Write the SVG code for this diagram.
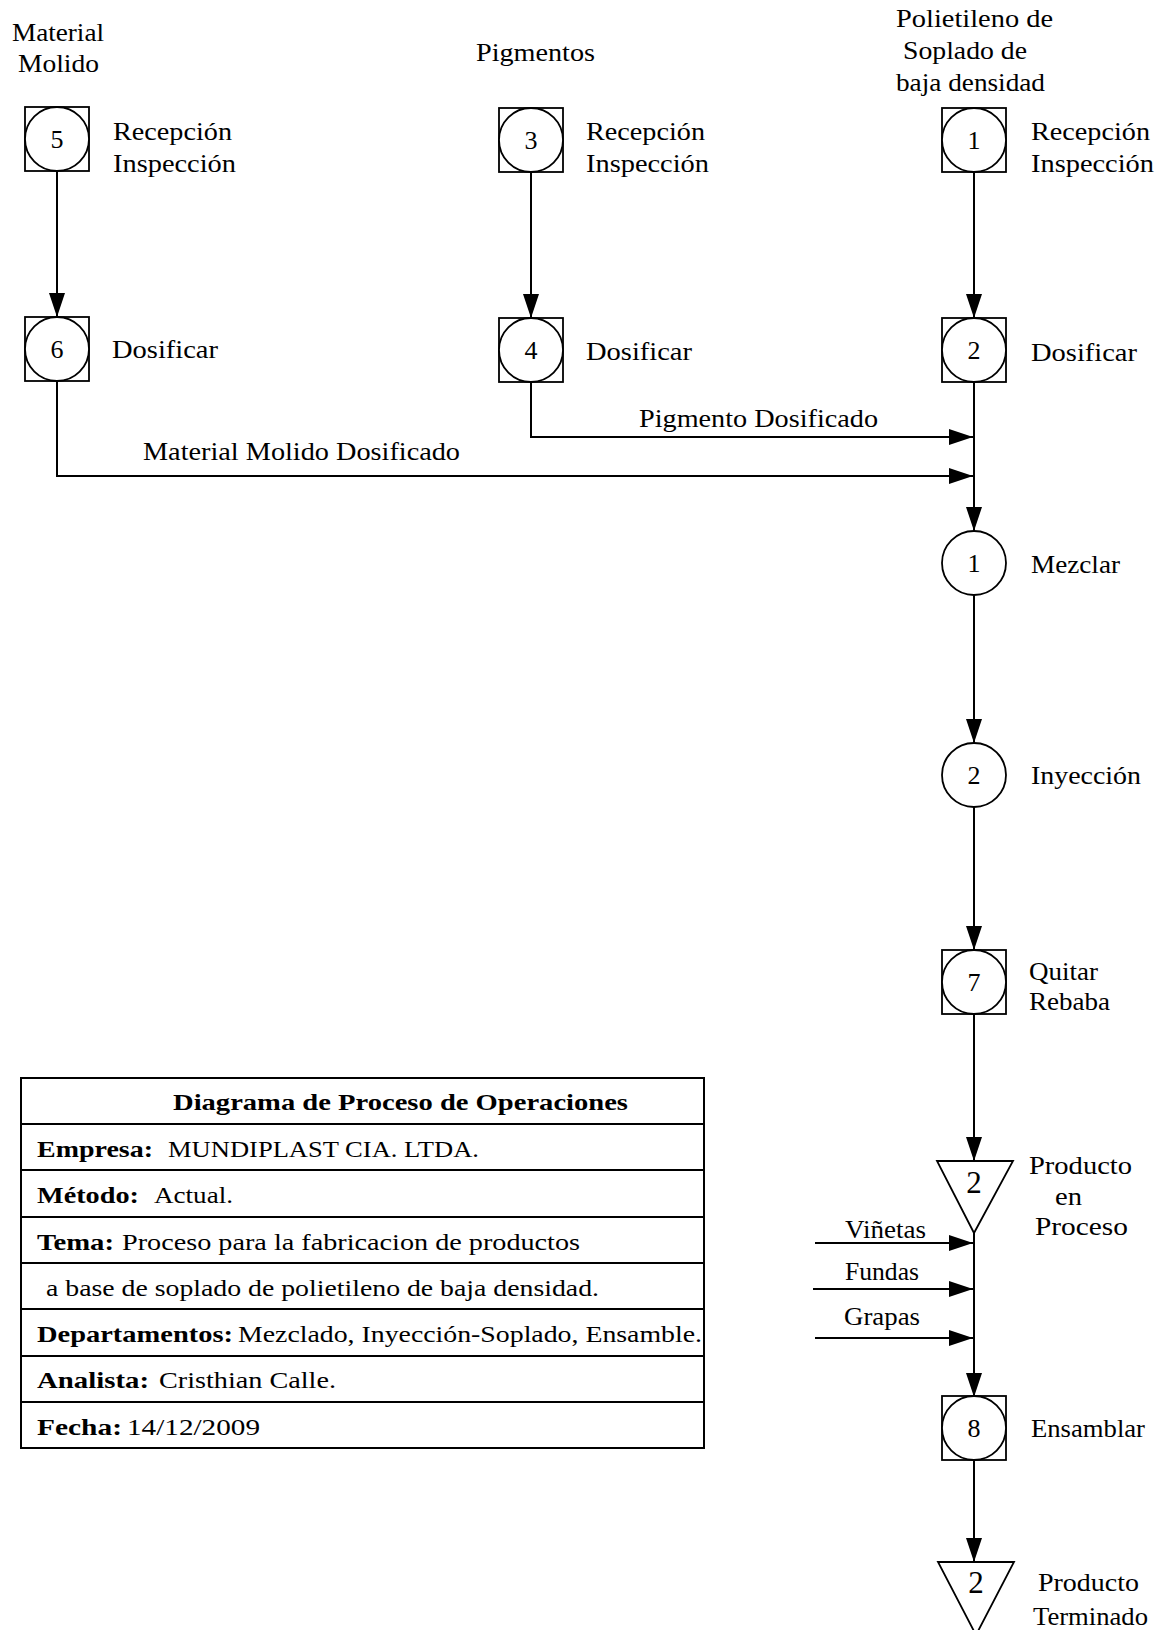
<svg xmlns="http://www.w3.org/2000/svg" width="1157" height="1630" viewBox="0 0 1157 1630">
  <style>
    .shape { fill: #fff; stroke: #000; stroke-width: 1.8; }
    .wire { fill: none; stroke: #000; stroke-width: 2; }
    .lbl { font-family: "Liberation Serif", "Times New Roman", serif; font-size: 26px; fill: #000; }
    .num { font-family: "Liberation Serif", "Times New Roman", serif; font-size: 26px; fill: #000; text-anchor: middle; }
    .tnum { font-family: "Liberation Serif", "Times New Roman", serif; font-size: 31px; fill: #000; text-anchor: middle; }
    .tb { font-family: "Liberation Serif", "Times New Roman", serif; font-size: 23px; fill: #000; }
    .b { font-weight: bold; }
  </style>
  <defs>
    <marker id="arrow" markerUnits="userSpaceOnUse" markerWidth="24" markerHeight="16" refX="24" refY="8" orient="auto">
      <path d="M0,0 L24,8 L0,16 Z" fill="#000"/>
    </marker>
  </defs>
  <rect width="1157" height="1630" fill="#fff"/>

  <!-- source materials -->
  <g id="src-molido">
    <text class="lbl" x="12" y="41" textLength="92" lengthAdjust="spacingAndGlyphs">Material</text>
    <text class="lbl" x="18" y="72" textLength="81" lengthAdjust="spacingAndGlyphs">Molido</text>
  </g>
  <g id="src-pigmentos">
    <text class="lbl" x="476" y="61" textLength="119" lengthAdjust="spacingAndGlyphs">Pigmentos</text>
  </g>
  <g id="src-polietileno">
    <text class="lbl" x="896" y="27" textLength="157" lengthAdjust="spacingAndGlyphs">Polietileno de</text>
    <text class="lbl" x="903" y="59" textLength="124" lengthAdjust="spacingAndGlyphs">Soplado de</text>
    <text class="lbl" x="896" y="91" textLength="149" lengthAdjust="spacingAndGlyphs">baja densidad</text>
  </g>

  <!-- connectors -->
  <g id="connectors">
    <line class="wire" x1="57" y1="171" x2="57" y2="317" marker-end="url(#arrow)"/>
    <line class="wire" x1="531" y1="172" x2="531" y2="318" marker-end="url(#arrow)"/>
    <line class="wire" x1="974" y1="172" x2="974" y2="318" marker-end="url(#arrow)"/>
    <polyline class="wire" points="57,381 57,476 973,476" marker-end="url(#arrow)"/>
    <polyline class="wire" points="531,382 531,437 973,437" marker-end="url(#arrow)"/>
    <line class="wire" x1="974" y1="382" x2="974" y2="531" marker-end="url(#arrow)"/>
    <line class="wire" x1="974" y1="595" x2="974" y2="743" marker-end="url(#arrow)"/>
    <line class="wire" x1="974" y1="807" x2="974" y2="950" marker-end="url(#arrow)"/>
    <line class="wire" x1="974" y1="1014" x2="974" y2="1161" marker-end="url(#arrow)"/>
    <line class="wire" x1="974" y1="1233" x2="974" y2="1397" marker-end="url(#arrow)"/>
    <line class="wire" x1="815" y1="1243" x2="973" y2="1243" marker-end="url(#arrow)"/>
    <line class="wire" x1="813" y1="1289" x2="973" y2="1289" marker-end="url(#arrow)"/>
    <line class="wire" x1="815" y1="1338" x2="973" y2="1338" marker-end="url(#arrow)"/>
    <line class="wire" x1="974" y1="1460" x2="974" y2="1562" marker-end="url(#arrow)"/>
    <text class="lbl" x="639" y="427" textLength="239" lengthAdjust="spacingAndGlyphs">Pigmento Dosificado</text>
    <text class="lbl" x="143" y="460" textLength="317" lengthAdjust="spacingAndGlyphs">Material Molido Dosificado</text>
    <text class="lbl" x="845" y="1238" textLength="81" lengthAdjust="spacingAndGlyphs">Viñetas</text>
    <text class="lbl" x="845" y="1280" textLength="74" lengthAdjust="spacingAndGlyphs">Fundas</text>
    <text class="lbl" x="844" y="1325" textLength="76" lengthAdjust="spacingAndGlyphs">Grapas</text>
  </g>

  <!-- column: material molido -->
  <g id="n5">
    <rect class="shape" x="25" y="107" width="64" height="64"/>
    <circle class="shape" cx="57" cy="139" r="32"/>
    <text class="num" x="57" y="148">5</text>
    <text class="lbl" x="113" y="140" textLength="119" lengthAdjust="spacingAndGlyphs">Recepción</text>
    <text class="lbl" x="113" y="172" textLength="123" lengthAdjust="spacingAndGlyphs">Inspección</text>
  </g>
  <g id="n6">
    <rect class="shape" x="25" y="317" width="64" height="64"/>
    <circle class="shape" cx="57" cy="349" r="32"/>
    <text class="num" x="57" y="358">6</text>
    <text class="lbl" x="112" y="358" textLength="106" lengthAdjust="spacingAndGlyphs">Dosificar</text>
  </g>

  <!-- column: pigmentos -->
  <g id="n3">
    <rect class="shape" x="499" y="108" width="64" height="64"/>
    <circle class="shape" cx="531" cy="140" r="32"/>
    <text class="num" x="531" y="149">3</text>
    <text class="lbl" x="586" y="140" textLength="119" lengthAdjust="spacingAndGlyphs">Recepción</text>
    <text class="lbl" x="586" y="172" textLength="123" lengthAdjust="spacingAndGlyphs">Inspección</text>
  </g>
  <g id="n4">
    <rect class="shape" x="499" y="318" width="64" height="64"/>
    <circle class="shape" cx="531" cy="350" r="32"/>
    <text class="num" x="531" y="359">4</text>
    <text class="lbl" x="586" y="360" textLength="106" lengthAdjust="spacingAndGlyphs">Dosificar</text>
  </g>

  <!-- column: polietileno -->
  <g id="n1">
    <rect class="shape" x="942" y="108" width="64" height="64"/>
    <circle class="shape" cx="974" cy="140" r="32"/>
    <text class="num" x="974" y="149">1</text>
    <text class="lbl" x="1031" y="140" textLength="119" lengthAdjust="spacingAndGlyphs">Recepción</text>
    <text class="lbl" x="1031" y="172" textLength="123" lengthAdjust="spacingAndGlyphs">Inspección</text>
  </g>
  <g id="n2">
    <rect class="shape" x="942" y="318" width="64" height="64"/>
    <circle class="shape" cx="974" cy="350" r="32"/>
    <text class="num" x="974" y="359">2</text>
    <text class="lbl" x="1031" y="361" textLength="106" lengthAdjust="spacingAndGlyphs">Dosificar</text>
  </g>

  <!-- main line -->
  <g id="op1">
    <circle class="shape" cx="974" cy="563" r="32"/>
    <text class="num" x="974" y="572">1</text>
    <text class="lbl" x="1031" y="573" textLength="89" lengthAdjust="spacingAndGlyphs">Mezclar</text>
  </g>
  <g id="op2">
    <circle class="shape" cx="974" cy="775" r="32"/>
    <text class="num" x="974" y="784">2</text>
    <text class="lbl" x="1031" y="784" textLength="110" lengthAdjust="spacingAndGlyphs">Inyección</text>
  </g>
  <g id="n7">
    <rect class="shape" x="942" y="950" width="64" height="64"/>
    <circle class="shape" cx="974" cy="982" r="32"/>
    <text class="num" x="974" y="991">7</text>
    <text class="lbl" x="1029" y="980" textLength="69" lengthAdjust="spacingAndGlyphs">Quitar</text>
    <text class="lbl" x="1029" y="1010" textLength="81" lengthAdjust="spacingAndGlyphs">Rebaba</text>
  </g>
  <g id="store1">
    <polygon class="shape" points="937,1161 1013,1161 974,1233"/>
    <text class="tnum" x="974" y="1193">2</text>
    <text class="lbl" x="1029" y="1174" textLength="103" lengthAdjust="spacingAndGlyphs">Producto</text>
    <text class="lbl" x="1055" y="1205" textLength="27" lengthAdjust="spacingAndGlyphs">en</text>
    <text class="lbl" x="1035" y="1235" textLength="93" lengthAdjust="spacingAndGlyphs">Proceso</text>
  </g>
  <g id="n8">
    <rect class="shape" x="942" y="1396" width="64" height="64"/>
    <circle class="shape" cx="974" cy="1428" r="32"/>
    <text class="num" x="974" y="1437">8</text>
    <text class="lbl" x="1031" y="1437" textLength="114" lengthAdjust="spacingAndGlyphs">Ensamblar</text>
  </g>
  <g id="store2">
    <polygon class="shape" points="938,1562 1014,1562 976,1635"/>
    <text class="tnum" x="976" y="1593">2</text>
    <text class="lbl" x="1038" y="1591" textLength="101" lengthAdjust="spacingAndGlyphs">Producto</text>
    <text class="lbl" x="1033" y="1625" textLength="115" lengthAdjust="spacingAndGlyphs">Terminado</text>
  </g>

  <!-- information block -->
  <g id="info-table">
    <rect x="21" y="1078" width="683" height="370" fill="none" stroke="#000" stroke-width="2"/>
    <g stroke="#000" stroke-width="2">
      <line x1="21" y1="1124" x2="704" y2="1124"/>
      <line x1="21" y1="1170" x2="704" y2="1170"/>
      <line x1="21" y1="1217" x2="704" y2="1217"/>
      <line x1="21" y1="1263" x2="704" y2="1263"/>
      <line x1="21" y1="1309" x2="704" y2="1309"/>
      <line x1="21" y1="1356" x2="704" y2="1356"/>
      <line x1="21" y1="1402" x2="704" y2="1402"/>
    </g>
    <text class="tb b" x="173" y="1110" textLength="455" lengthAdjust="spacingAndGlyphs">Diagrama de Proceso de Operaciones</text>
    <text class="tb b" x="37" y="1157" textLength="116" lengthAdjust="spacingAndGlyphs">Empresa:</text>
    <text class="tb" x="168" y="1157" textLength="311" lengthAdjust="spacingAndGlyphs">MUNDIPLAST CIA. LTDA.</text>
    <text class="tb b" x="37" y="1203" textLength="102" lengthAdjust="spacingAndGlyphs">Método:</text>
    <text class="tb" x="154" y="1203" textLength="79" lengthAdjust="spacingAndGlyphs">Actual.</text>
    <text class="tb b" x="37" y="1250" textLength="77" lengthAdjust="spacingAndGlyphs">Tema:</text>
    <text class="tb" x="122" y="1250" textLength="458" lengthAdjust="spacingAndGlyphs">Proceso para la fabricacion de productos</text>
    <text class="tb" x="46" y="1296" textLength="553" lengthAdjust="spacingAndGlyphs">a base de soplado de polietileno de baja densidad.</text>
    <text class="tb b" x="37" y="1342" textLength="196" lengthAdjust="spacingAndGlyphs">Departamentos:</text>
    <text class="tb" x="238" y="1342" textLength="464" lengthAdjust="spacingAndGlyphs">Mezclado, Inyección-Soplado, Ensamble.</text>
    <text class="tb b" x="37" y="1388" textLength="112" lengthAdjust="spacingAndGlyphs">Analista:</text>
    <text class="tb" x="159" y="1388" textLength="177" lengthAdjust="spacingAndGlyphs">Cristhian Calle.</text>
    <text class="tb b" x="37" y="1435" textLength="85" lengthAdjust="spacingAndGlyphs">Fecha:</text>
    <text class="tb" x="127" y="1435" textLength="133" lengthAdjust="spacingAndGlyphs">14/12/2009</text>
  </g>
</svg>
